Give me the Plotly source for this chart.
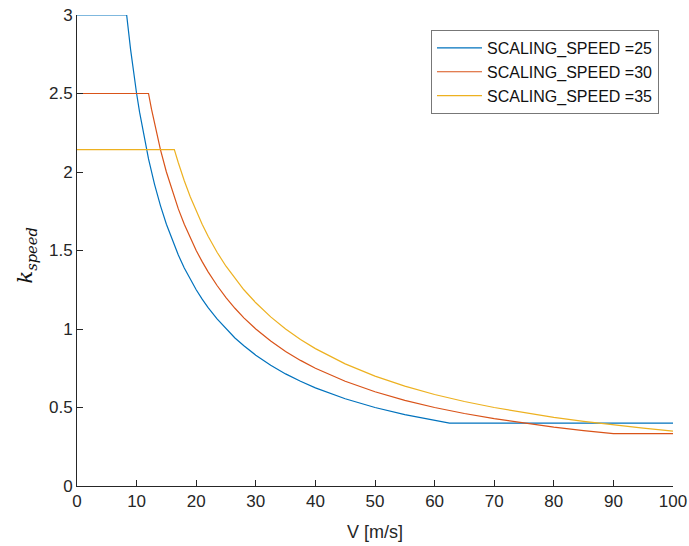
import plotly.graph_objects as go

# Values
v25 = [0, 8.33, 9, 9.5, 10, 10.5, 11, 11.5, 12, 13, 14, 15, 16, 17, 18, 19, 20, 21, 22, 23.5, 25, 26.5, 28, 30,
       32.5, 35, 37.5, 40, 45, 50, 55, 60, 62.5, 100]
k25 = [3.0, 3.0, 2.778, 2.632, 2.5, 2.381, 2.273, 2.174, 2.083, 1.923, 1.786, 1.667, 1.5625, 1.471, 1.389,
       1.316, 1.25, 1.190, 1.136, 1.064, 1.0, 0.943, 0.893, 0.833, 0.769, 0.714, 0.667, 0.625, 0.556, 0.5,
       0.455, 0.417, 0.4, 0.4]

v30 = [0, 12, 12.5, 13, 13.5, 14, 15, 16, 17, 18, 19, 20, 21, 22, 23.5, 25, 26.5, 28, 30, 32.5, 35, 37.5, 40,
       45, 50, 55, 60, 65, 70, 75, 80, 85, 90, 100]
k30 = [2.5, 2.5, 2.4, 2.308, 2.222, 2.143, 2.0, 1.875, 1.765, 1.667, 1.579, 1.5, 1.429, 1.364, 1.277, 1.2,
       1.132, 1.071, 1.0, 0.923, 0.857, 0.8, 0.75, 0.667, 0.6, 0.545, 0.5, 0.462, 0.429, 0.4, 0.375, 0.353,
       0.333, 0.333]

v35 = [0, 16.33, 17, 17.5, 18, 19, 20, 21, 22, 23.5, 25, 26.5, 28, 30, 32.5, 35, 37.5, 40, 45, 50, 55, 60, 65,
       70, 75, 80, 85, 90, 95, 100]
k35 = [2.143, 2.143, 2.059, 2.0, 1.944, 1.842, 1.75, 1.667, 1.591, 1.489, 1.4, 1.321, 1.25, 1.167, 1.077,
       1.0, 0.933, 0.875, 0.778, 0.7, 0.636, 0.583, 0.538, 0.5, 0.467, 0.4375, 0.412, 0.389, 0.368, 0.35]

names = ["SCALING_SPEED =25", "SCALING_SPEED =30", "SCALING_SPEED =35"]
colors = ["#0072BD", "#D95319", "#EDB120"]
xticks = [0, 10, 20, 30, 40, 50, 60, 70, 80, 90, 100]
yticks = [0, 0.5, 1, 1.5, 2, 2.5, 3]
yticklabels = ["0", "0.5", "1", "1.5", "2", "2.5", "3"]

fig = go.Figure()
for v, k, n, c in zip([v25, v30, v35], [k25, k30, k35], names, colors):
    fig.add_trace(go.Scatter(x=v, y=k, mode="lines", name=n,
                             line=dict(color=c, width=1.2, shape="linear")))

axcol = "#262626"
fig.update_layout(
    width=689, height=546,
    margin=dict(l=77, r=16, t=15, b=60, autoexpand=False),
    paper_bgcolor="white", plot_bgcolor="white",
    font=dict(family="Liberation Sans, Arial, sans-serif", size=17, color=axcol),
    showlegend=True,
    legend=dict(x=0.9765, y=0.968, xanchor="right", yanchor="top",
                bordercolor="#777777", borderwidth=1, bgcolor="white",
                font=dict(size=16, color="#111111"),
                tracegroupgap=0, itemwidth=45),
    xaxis=dict(range=[0, 100], tickvals=xticks, ticks="inside", ticklen=6,
               tickcolor=axcol, showline=True, linecolor=axcol, linewidth=1,
               showgrid=False, zeroline=False, mirror=False, automargin=False,
               title=dict(text="V [m/s]", font=dict(size=18), standoff=14)),
    yaxis=dict(range=[0, 3], tickvals=yticks, ticktext=yticklabels, ticks="inside", ticklen=6,
               tickcolor=axcol, showline=True, linecolor=axcol, linewidth=1,
               showgrid=False, zeroline=False, mirror=False, automargin=False),
)
fig.add_annotation(text="<i>k</i><sub><i>speed</i></sub>", xref="paper", yref="paper",
                   x=-0.085, y=0.49, xanchor="center", yanchor="middle", textangle=-90, showarrow=False,
                   font=dict(family="DejaVu Serif, Liberation Serif, serif", size=21, color="#111111"))

fig.write_html("out.html")
